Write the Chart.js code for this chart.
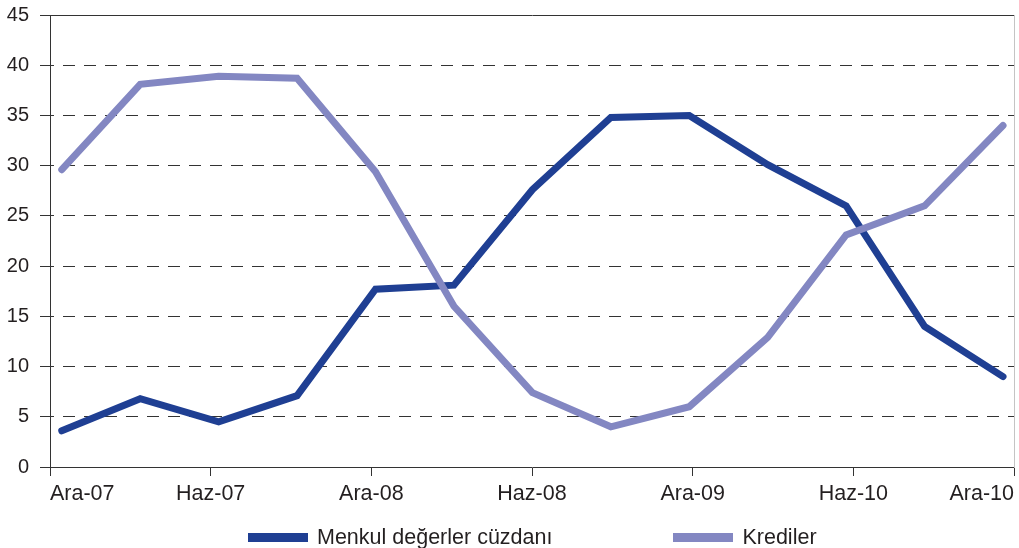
<!DOCTYPE html>
<html>
<head>
<meta charset="utf-8">
<script src="https://cdn.jsdelivr.net/npm/chart.js@4.4.1/dist/chart.umd.min.js"></script>
<style>
  html, body { margin: 0; padding: 0; background: #fff; overflow: hidden; }
  #wrap { position: relative; width: 1019px; height: 548px; }
  #legend {
    position: absolute; left: 248px; top: 525px;
    display: flex; gap: 121px;
    font-family: "Liberation Sans", Arial, sans-serif; font-size: 21.5px; color: #231f20;
  }
  .item { display: flex; align-items: center; }
  .box { width: 60px; height: 9px; margin-right: 9px; }
</style>
</head>
<body>
<div id="wrap">
  <canvas id="chart" width="1019" height="548"></canvas>
  <div id="legend"></div>
</div>
<script>
// x-ekseni etiketleri (her iki gozlemde bir)
const tickLabels = ['Ara-07', 'Haz-07', 'Ara-08', 'Haz-08', 'Ara-09', 'Haz-10', 'Ara-10'];

// seriler (%)
const menkul = [3.6, 6.8, 4.5, 7.1, 17.7, 18.1, 27.6, 34.8, 35.0, 30.1, 26.0, 14.0, 9.0];
const krediler = [29.6, 38.1, 38.9, 38.7, 29.4, 16.0, 7.4, 4.0, 6.0, 12.9, 23.1, 26.0, 34.0];

const yTicks = { min: 0, max: 45, step: 5 };

const fontFam = '"Liberation Sans", Arial, sans-serif';
const textColor = '#231f20';
const lineColor = '#333333';

function toPoints(arr) {
  return arr.map(function (v, i) { return { x: i, y: v }; });
}

const ctx = document.querySelector('#chart');
const myChart = new Chart(ctx, {
  type: 'line',
  data: {
    datasets: [{
      label: 'Menkul değerler cüzdanı',
      data: toPoints(menkul),
      borderColor: '#1f3f93',
      backgroundColor: '#1f3f93',
      borderWidth: 7,
      borderCapStyle: 'round',
      pointRadius: 0,
      tension: 0,
      xAxisID: 'xData',
      yAxisID: 'y',
      order: 2
    },
    {
      label: 'Krediler',
      data: toPoints(krediler),
      borderColor: '#8387c2',
      backgroundColor: '#8387c2',
      borderWidth: 7,
      borderCapStyle: 'round',
      pointRadius: 0,
      tension: 0,
      xAxisID: 'xData',
      yAxisID: 'y',
      order: 1
    }]
  },
  options: {
    responsive: false,
    animation: false,
    devicePixelRatio: 1,
    layout: { padding: { top: 15, right: 1, left: 0, bottom: 0 } },
    plugins: {
      legend: { display: false },
      tooltip: { enabled: false }
    },
    scales: {
      xData: {
        type: 'linear',
        position: 'top',
        min: -0.15,
        max: 12.14,
        grid: { display: false, drawTicks: false },
        ticks: { display: false },
        border: { display: true, color: lineColor, width: 1 },
        afterFit: function (scale) { scale.height = 0; }
      },
      x: {
        type: 'category',
        position: 'bottom',
        labels: tickLabels,
        offset: false,
        grid: {
          display: true,
          drawOnChartArea: false,
          drawTicks: true,
          tickLength: 9,
          tickColor: lineColor,
          color: lineColor
        },
        border: { display: true, color: lineColor, width: 1 },
        ticks: {
          autoSkip: false,
          maxRotation: 0,
          align: 'inner',
          padding: 5,
          color: textColor,
          font: { family: fontFam, size: 21.5 }
        },
        afterFit: function (scale) { scale.height = 81; }
      },
      y: {
        type: 'linear',
        position: 'left',
        min: yTicks.min,
        max: yTicks.max,
        ticks: {
          stepSize: yTicks.step,
          padding: 11,
          color: textColor,
          font: { family: fontFam, size: 20 }
        },
        grid: {
          color: function (c) {
            return (c.tick.value === yTicks.min || c.tick.value === yTicks.max) ? 'rgba(0,0,0,0)' : lineColor;
          },
          lineWidth: 1,
          tickLength: 10,
          tickColor: lineColor,
          tickBorderDash: []
        },
        border: { display: true, color: lineColor, width: 1, dash: [12, 9], dashOffset: 9 },
        afterFit: function (scale) {
          scale.width = 50;
          scale.paddingTop = 0;
          scale.paddingBottom = 0;
        }
      },
      yRight: {
        type: 'linear',
        position: 'right',
        min: yTicks.min,
        max: yTicks.max,
        grid: { display: false, drawTicks: false },
        ticks: { display: false },
        border: { display: true, color: '#c4c4c4', width: 1 },
        afterFit: function (scale) { scale.width = 0; }
      }
    }
  }
});

// legend in html, from the chart datasets
const legendEl = document.querySelector('#legend');
myChart.data.datasets.forEach(function (ds) {
  const item = document.createElement('div');
  item.className = 'item';
  const box = document.createElement('span');
  box.className = 'box';
  box.style.background = ds.borderColor;
  const txt = document.createElement('span');
  txt.textContent = ds.label;
  item.appendChild(box);
  item.appendChild(txt);
  legendEl.appendChild(item);
});
</script>
</body>
</html>
